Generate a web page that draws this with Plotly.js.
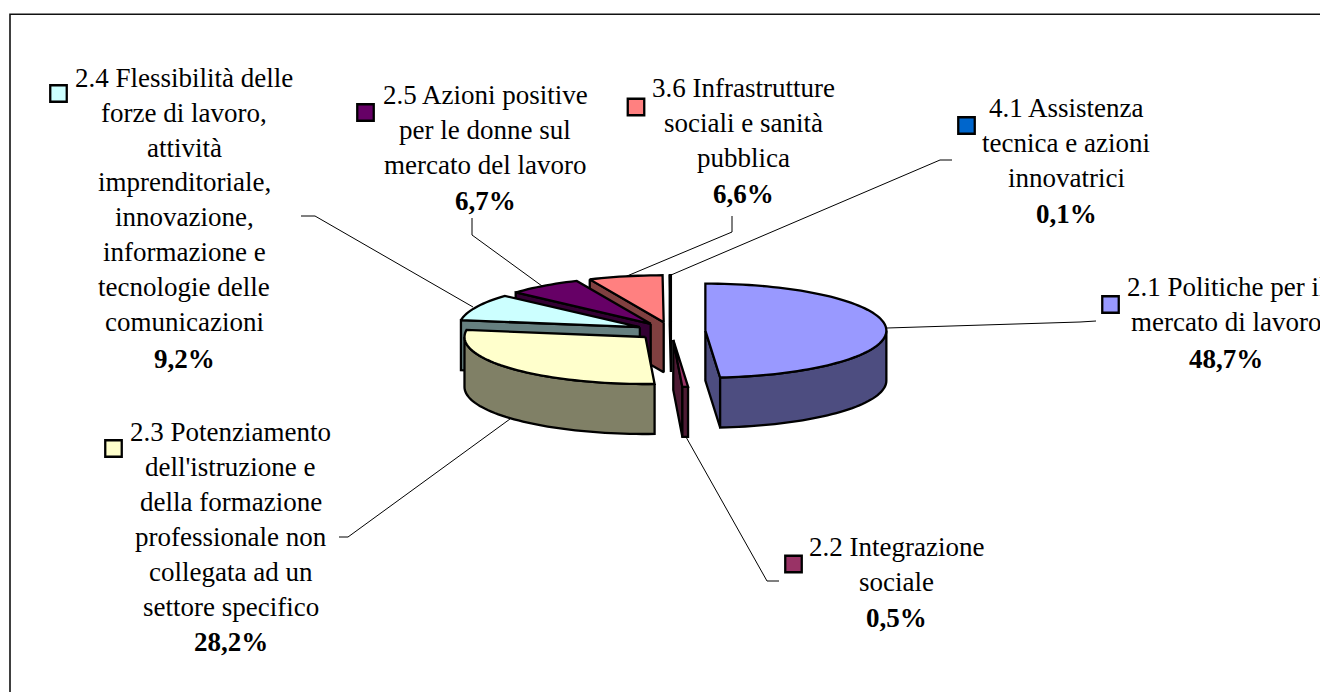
<!DOCTYPE html>
<html><head><meta charset="utf-8">
<script src="https://cdn.plot.ly/plotly-3.0.1.min.js"></script>
<style>html,body{margin:0;padding:0;background:#fff;overflow:hidden}</style>
</head><body><div id="chart" style="width:1320px;height:692px"></div>
<script>
// ---- data ----
const categories = ["2.1","2.2","2.3","2.4","2.5","3.6","4.1"];
const values = [48.7,0.5,28.2,9.2,6.7,6.6,0.1];
const valueLabels = ["48,7%","0,5%","28,2%","9,2%","6,7%","6,6%","0,1%"];
const labelLines = [
  ["2.1 Politiche per il","mercato di lavoro"],
  ["2.2 Integrazione","sociale"],
  ["2.3 Potenziamento","dell'istruzione e","della formazione","professionale non","collegata ad un","settore specifico"],
  ["2.4 Flessibilità delle","forze di lavoro,","attività","imprenditoriale,","innovazione,","informazione e","tecnologie delle","comunicazioni"],
  ["2.5 Azioni positive","per le donne sul","mercato del lavoro"],
  ["3.6 Infrastrutture","sociali e sanità","pubblica"],
  ["4.1 Assistenza","tecnica e azioni","innovatrici"]
];
// ---- styles and layout ----
const fills = ["#9999FF","#993366","#FFFFCC","#CCFFFF","#660066","#FF8080","#0066CC"];
const sides = ["#4D4D80","#4D1A33","#808066","#668080","#330033","#804040","#003366"];
const drawOrder = [6,5,4,3,2,1,0];
const geo = {cx:671, cy:331, a:181, b:47, depth:50, explode:0.19};
const labelCenterX = [1226,896,230.7,184,485,743,1066];
const labelTopY = [287,547,432,78,95,88,108];
const lineStep = [35,35,35,34.8,35,35,35];
const boldGap = [37,36,35,37,36,36,36];
const keyX = [1110.5,793.5,113.5,58.5,365.5,636,966.5];
const keyY = [304.5,564,448.5,93.5,112.5,107,125.5];
const leaders = [
  [[887,328],[1080,322],[1096,321]],
  [[686,437],[767,581],[779,581]],
  [[510,419],[348,537],[339,537]],
  [[473,307],[315,216],[301,216]],
  [[542,286],[472,235],[472,218]],
  [[627,276],[732,232],[732,216]],
  [[671,275],[940,160],[952,160]]
];
const FONT = "Liberation Serif, Times New Roman, serif";
const FS = 27;

const rad = d => d*Math.PI/180;
const total = values.reduce((s,v)=>s+v,0);
let acc = 0;
const slices = values.map((v,i)=>{
  const start = acc/total*360; acc += v; const end = acc/total*360;
  const m = rad((start+end)/2);
  return {i,start,end,
    ax: geo.cx + geo.explode*geo.a*Math.sin(m),
    ay: geo.cy - geo.explode*geo.b*Math.cos(m)};
});
const pt = (s,d,dz=0)=>[s.ax+geo.a*Math.sin(rad(d)), s.ay-geo.b*Math.cos(rad(d))+dz];
function poly(points,fill){
  return {type:"scatter",mode:"lines",x:points.map(p=>p[0]),y:points.map(p=>p[1]),
    fill:"toself",fillcolor:fill,line:{color:"#000",width:2.3,simplify:false},hoverinfo:"skip",showlegend:false};
}
function arc(s,d0,d1,dz){
  const pts=[],n=Math.max(2,Math.ceil(Math.abs(d1-d0)/2));
  for(let k=0;k<=n;k++) pts.push(pt(s,d0+(d1-d0)*k/n,dz));
  return pts;
}
const traces=[];
drawOrder.forEach(idx=>{
  const s=slices[idx], apex=[s.ax,s.ay], apexLow=[s.ax,s.ay+geo.depth];
  // radial wall
  if(s.start>=180){
    const r=pt(s,s.start);
    traces.push(poly([apex,r,pt(s,s.start,geo.depth),apexLow,apex],sides[idx]));
  }
  if(s.end<180){
    const r=pt(s,s.end);
    traces.push(poly([apex,r,pt(s,s.end,geo.depth),apexLow,apex],sides[idx]));
  }
  // outer rim, front half only
  const r0=Math.max(s.start,90), r1=Math.min(s.end,270);
  if(r1>r0){
    traces.push(poly(arc(s,r0,r1,0).concat(arc(s,r1,r0,geo.depth)).concat([pt(s,r0)]),sides[idx]));
  }
  // top face
  traces.push(poly([apex].concat(arc(s,s.start,s.end,0)).concat([apex]),fills[idx]));
});
// legend keys
traces.push({type:"scatter",mode:"markers",x:keyX,y:keyY,hoverinfo:"skip",showlegend:false,
  marker:{symbol:"square",size:16.5,color:fills,line:{color:"#000",width:2.3}}});

const annotations=[];
const note=(x,y,text)=>annotations.push({xref:"x",yref:"y",x,y,text,showarrow:false,xanchor:"center",yanchor:"middle",
  font:{family:FONT,size:FS,color:"#000"}});
categories.forEach((c,i)=>{
  labelLines[i].forEach((t,k)=>note(labelCenterX[i],labelTopY[i]+k*lineStep[i],t));
  note(labelCenterX[i],labelTopY[i]+(labelLines[i].length-1)*lineStep[i]+boldGap[i],"<b>"+valueLabels[i]+"</b>");
});
const shapes=[{type:"rect",xref:"x",yref:"y",x0:10,y0:14.3,x1:1340,y1:720,line:{color:"#111",width:1.6},layer:"below"}];
leaders.forEach(l=>shapes.push({type:"path",xref:"x",yref:"y",
  path:"M"+l.map(p=>p.join(" ")).join(" L"),line:{color:"#000",width:1},layer:"below"}));

Plotly.newPlot("chart",traces,{
  width:1320,height:692,margin:{l:0,r:0,t:0,b:0},paper_bgcolor:"#fff",plot_bgcolor:"#fff",showlegend:false,
  xaxis:{range:[0,1320],visible:false,fixedrange:true},
  yaxis:{range:[692,0],visible:false,fixedrange:true},
  annotations,shapes
},{displayModeBar:false,staticPlot:true});
</script></body></html>
